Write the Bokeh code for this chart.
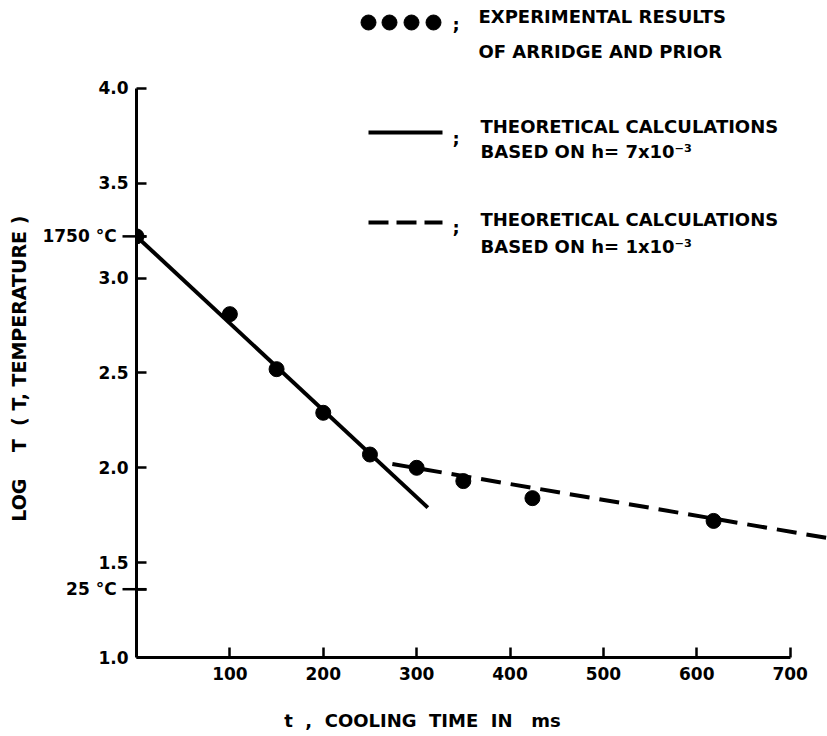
from bokeh.plotting import figure
from bokeh.models import (LinearAxis, FixedTicker, Label, Range1d, Grid,
                          CustomJSTickFormatter)
from bokeh.embed import file_html
from bokeh.resources import INLINE

# ---------------- data ----------------
exp_t = [0, 100, 150, 200, 250, 300, 350, 424, 618]
exp_logT = [3.22, 2.81, 2.52, 2.29, 2.07, 2.00, 1.93, 1.84, 1.72]

solid_t = [0, 312]
solid_logT = [3.22, 1.79]

dashed_t = [274, 740]
dashed_logT = [2.02, 1.63]

x_ticks = [100, 200, 300, 400, 500, 600, 700]
y_ticks = [1.0, 1.5, 2.0, 2.5, 3.0, 3.5, 4.0]
y_tick_labels = ["1.0", "1.5", "2.0", "2.5", "3.0", "3.5", "4.0"]
temp_ticks = [3.22, 1.36]
temp_labels = ["1750 °C", "25 °C"]

legend_exp = ["EXPERIMENTAL RESULTS", "OF ARRIDGE AND PRIOR"]
legend_solid = ["THEORETICAL CALCULATIONS", "BASED ON h= 7x10⁻³"]
legend_dashed = ["THEORETICAL CALCULATIONS", "BASED ON h= 1x10⁻³"]

x_title_words = ["t", ",", "COOLING", "TIME", "IN", "ms"]
y_title_words = ["LOG", "T", "(", "T,", "TEMPERATURE", ")"]

# ---------------- layout ----------------
W, H = 827, 736
X0, X1 = 0, 740
FL, FB = 136, 79          # frame left border, bottom border (px)
FW, FH = W - FL, H - FB
PXY = 189.7
Y0 = 1.0
Y1 = Y0 + FH / PXY
PXX = FW / (X1 - X0)
NB = "\u00a0"


def X(px):  # page px -> data x
    return X0 + (px - FL) / PXX


def Y(py):  # page px -> data y
    return Y0 + (FH - py) / PXY


def spaced(words, gaps, pad):
    # wide lettering of the original: non-breaking spaces keep the gaps,
    # trailing ones shift the centred title to where the original has it
    s = words[0] + "".join(NB * g + w for g, w in zip(gaps, words[1:]))
    return s + NB * pad


x_title = spaced(x_title_words, [2, 2, 2, 2, 3], 19)
y_title = spaced(y_title_words, [4, 2, 1, 1, 1], 12)

FONT = "DejaVu Sans"

p = figure(width=W, height=H, x_range=Range1d(X0, X1), y_range=Range1d(Y0, Y1),
           output_backend="svg", toolbar_location=None,
           x_axis_location=None, y_axis_location=None,
           min_border_left=FL, min_border_right=0, min_border_top=0,
           min_border_bottom=FB)
p.outline_line_color = None
p.background_fill_color = "white"
p.border_fill_color = "white"
p.center = [c for c in p.center if not isinstance(c, Grid)]

common = dict(axis_line_width=3, axis_line_color="black",
              major_tick_line_width=2.5, major_tick_line_color="black",
              minor_tick_line_color=None,
              major_label_text_font=FONT, major_label_text_font_size="17px",
              major_label_text_font_style="bold", major_label_text_color="black",
              axis_label_text_font=FONT,
              axis_label_text_font_style="bold", axis_label_text_color="black")

xax = LinearAxis(ticker=FixedTicker(ticks=x_ticks), bounds=(0, 700),
                 major_tick_in=10, major_tick_out=0, major_label_standoff=9,
                 axis_label=x_title, axis_label_standoff=27,
                 axis_label_text_font_size="18px",
                 **common)
p.add_layout(xax, "below")

all_ticks = y_ticks + temp_ticks
all_labels = y_tick_labels + [t + NB * 2 for t in temp_labels]
fmt = CustomJSTickFormatter(
    args=dict(tvals=all_ticks, tlabels=all_labels),
    code="""
    for (let i = 0; i < tvals.length; i++) {
        if (Math.abs(tvals[i] - tick) < 1e-6) { return tlabels[i]; }
    }
    return "";
    """)
yax = LinearAxis(ticker=FixedTicker(ticks=all_ticks), bounds=(1.0, 4.0),
                 formatter=fmt,
                 major_tick_in=10, major_tick_out=0, major_label_standoff=8,
                 axis_label=y_title, axis_label_standoff=9,
                 axis_label_text_font_size="19px",
                 **common)
p.add_layout(yax, "left")

# outward stubs of the two temperature marks
p.segment(x0=[X(122)] * 2, y0=temp_ticks, x1=[X(146)] * 2, y1=temp_ticks,
          line_color="black", line_width=2.5, level="overlay")

# ---------------- data marks ----------------
p.line(solid_t, solid_logT, line_color="black", line_width=4)
p.line(dashed_t, dashed_logT, line_color="black", line_width=4, line_dash="20 10")
p.scatter(exp_t, exp_logT, size=15, marker="circle", fill_color="black", line_color="black")

# ---------------- legend (hand-drawn like the original) ----------------
p.scatter([X(368), X(389), X(411), X(433)], [Y(22)] * 4, size=15, marker="circle",
          fill_color="black", line_color="black")
p.line([X(368), X(442)], [Y(132)] * 2, line_color="black", line_width=4)
p.line([X(368), X(442)], [Y(222)] * 2, line_color="black", line_width=4, line_dash="20 8")


def txt(px, py, s, size="18px", align="left", angle=0.0):
    p.add_layout(Label(x=X(px), y=Y(py), text=s, text_font=FONT, text_font_size=size,
                       text_font_style="bold", text_color="black", text_align=align,
                       text_baseline="middle", angle=angle))


for py in (24, 138, 227):
    txt(452, py, ";")
txt(478, 16, legend_exp[0])
txt(478, 51, legend_exp[1])
txt(480, 126, legend_solid[0])
txt(480, 151, legend_solid[1])
txt(480, 219, legend_dashed[0])
txt(480, 246, legend_dashed[1])

open("out.html", "w").write(file_html(p, INLINE))
